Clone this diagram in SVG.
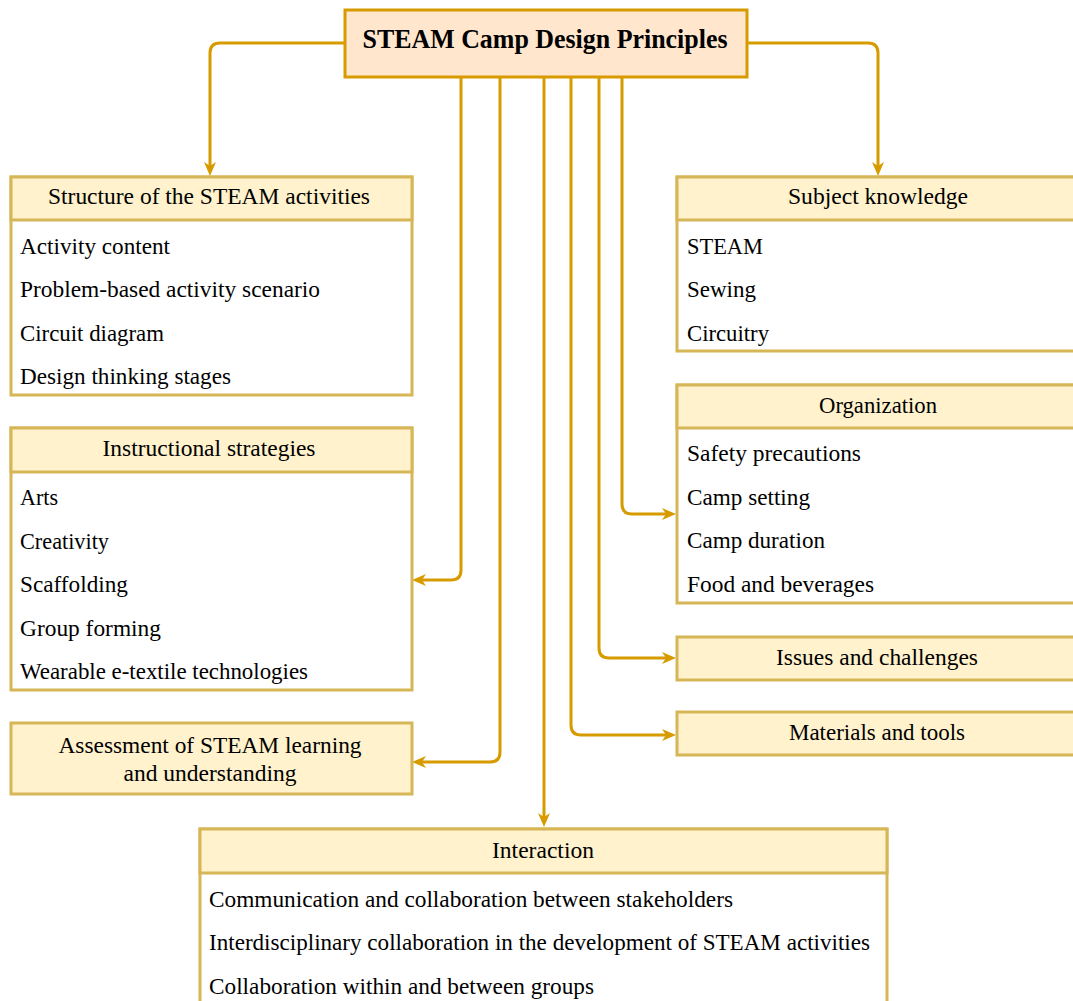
<svg xmlns="http://www.w3.org/2000/svg" width="1073" height="1001" viewBox="0 0 1073 1001">
  <defs>
    <style>
      .root { fill: #ffe6cc; stroke: #d79b00; stroke-width: 3; }
      .head { fill: #fff2cc; stroke: #d6b656; stroke-width: 3; }
      .body { fill: #ffffff; stroke: #d6b656; stroke-width: 3; }
      .t { font-family: "Liberation Serif", "Times New Roman", serif; font-size: 24px; fill: #000; }
      .c { text-anchor: middle; }
      .title { font-family: "Liberation Serif", "Times New Roman", serif; font-size: 27px; font-weight: bold; text-anchor: middle; fill: #000; }
      .edge { fill: none; stroke: #d79b00; stroke-width: 3; marker-end: url(#arrow); }
    </style>
    <marker id="arrow" markerUnits="userSpaceOnUse" viewBox="0 0 14 12" markerWidth="14" markerHeight="12" refX="7" refY="6" orient="auto">
      <path d="M0,0 L14,6 L0,12 L4,6 Z" fill="#d79b00"/>
    </marker>
  </defs>

  <rect width="1073" height="1001" fill="#ffffff"/>

  <!-- connectors -->
  <g id="connectors">
    <path class="edge" d="M345,43 H220 Q210,43 210,53 V169"/>
    <path class="edge" d="M747,43 H868 Q878,43 878,53 V169"/>
    <path class="edge" d="M461,77 V570 Q461,580 451,580 H419"/>
    <path class="edge" d="M500,77 V752 Q500,762 490,762 H419"/>
    <path class="edge" d="M544,77 V820"/>
    <path class="edge" d="M571,77 V725 Q571,735 581,735 H669"/>
    <path class="edge" d="M599,77 V648 Q599,658 609,658 H669"/>
    <path class="edge" d="M622,77 V504 Q622,514 632,514 H669"/>
  </g>

  <!-- root node -->
  <g id="root">
    <rect class="root" x="345" y="10" width="402" height="67"/>
    <text class="title" x="545" y="48" textLength="365" lengthAdjust="spacingAndGlyphs">STEAM Camp Design Principles</text>
  </g>

  <!-- left column -->
  <g id="structure">
    <rect class="body" x="11" y="177" width="401" height="218"/>
    <rect class="head" x="11" y="177" width="401" height="43"/>
    <text class="t c" x="209" y="204" textLength="322" lengthAdjust="spacingAndGlyphs">Structure of the STEAM activities</text>
    <text class="t" x="20" y="254" textLength="150" lengthAdjust="spacingAndGlyphs">Activity content</text>
    <text class="t" x="20" y="297" textLength="300" lengthAdjust="spacingAndGlyphs">Problem-based activity scenario</text>
    <text class="t" x="20" y="341" textLength="144" lengthAdjust="spacingAndGlyphs">Circuit diagram</text>
    <text class="t" x="20" y="384" textLength="211" lengthAdjust="spacingAndGlyphs">Design thinking stages</text>
  </g>

  <g id="instructional">
    <rect class="body" x="11" y="428" width="401" height="262"/>
    <rect class="head" x="11" y="428" width="401" height="44"/>
    <text class="t c" x="209" y="456" textLength="213" lengthAdjust="spacingAndGlyphs">Instructional strategies</text>
    <text class="t" x="20" y="505" textLength="38" lengthAdjust="spacingAndGlyphs">Arts</text>
    <text class="t" x="20" y="549" textLength="89" lengthAdjust="spacingAndGlyphs">Creativity</text>
    <text class="t" x="20" y="592" textLength="108" lengthAdjust="spacingAndGlyphs">Scaffolding</text>
    <text class="t" x="20" y="636" textLength="141" lengthAdjust="spacingAndGlyphs">Group forming</text>
    <text class="t" x="20" y="679" textLength="288" lengthAdjust="spacingAndGlyphs">Wearable e-textile technologies</text>
  </g>

  <g id="assessment">
    <rect class="head" x="11" y="723" width="401" height="71"/>
    <text class="t c" x="210" y="753" textLength="303" lengthAdjust="spacingAndGlyphs">Assessment of STEAM learning</text>
    <text class="t c" x="210" y="781" textLength="173" lengthAdjust="spacingAndGlyphs">and understanding</text>
  </g>

  <!-- bottom node -->
  <g id="interaction">
    <rect class="body" x="200" y="829" width="687" height="190"/>
    <rect class="head" x="200" y="829" width="687" height="44"/>
    <text class="t c" x="543" y="858" textLength="102" lengthAdjust="spacingAndGlyphs">Interaction</text>
    <text class="t" x="209" y="907" textLength="524" lengthAdjust="spacingAndGlyphs">Communication and collaboration between stakeholders</text>
    <text class="t" x="209" y="950" textLength="661" lengthAdjust="spacingAndGlyphs">Interdisciplinary collaboration in the development of STEAM activities</text>
    <text class="t" x="209" y="994" textLength="385" lengthAdjust="spacingAndGlyphs">Collaboration within and between groups</text>
  </g>

  <!-- right column -->
  <g id="subject">
    <rect class="body" x="677" y="177" width="402" height="174"/>
    <rect class="head" x="677" y="177" width="402" height="43"/>
    <text class="t c" x="878" y="204" textLength="180" lengthAdjust="spacingAndGlyphs">Subject knowledge</text>
    <text class="t" x="687" y="254" textLength="76" lengthAdjust="spacingAndGlyphs">STEAM</text>
    <text class="t" x="687" y="297" textLength="69" lengthAdjust="spacingAndGlyphs">Sewing</text>
    <text class="t" x="687" y="341" textLength="82" lengthAdjust="spacingAndGlyphs">Circuitry</text>
  </g>

  <g id="organization">
    <rect class="body" x="677" y="385" width="402" height="218"/>
    <rect class="head" x="677" y="385" width="402" height="43"/>
    <text class="t c" x="878" y="413" textLength="118" lengthAdjust="spacingAndGlyphs">Organization</text>
    <text class="t" x="687" y="461" textLength="174" lengthAdjust="spacingAndGlyphs">Safety precautions</text>
    <text class="t" x="687" y="505" textLength="123" lengthAdjust="spacingAndGlyphs">Camp setting</text>
    <text class="t" x="687" y="548" textLength="138" lengthAdjust="spacingAndGlyphs">Camp duration</text>
    <text class="t" x="687" y="592" textLength="187" lengthAdjust="spacingAndGlyphs">Food and beverages</text>
  </g>

  <g id="issues">
    <rect class="head" x="677" y="637" width="402" height="43"/>
    <text class="t c" x="877" y="665" textLength="202" lengthAdjust="spacingAndGlyphs">Issues and challenges</text>
  </g>

  <g id="materials">
    <rect class="head" x="677" y="712" width="402" height="43"/>
    <text class="t c" x="877" y="740" textLength="176" lengthAdjust="spacingAndGlyphs">Materials and tools</text>
  </g>
</svg>
